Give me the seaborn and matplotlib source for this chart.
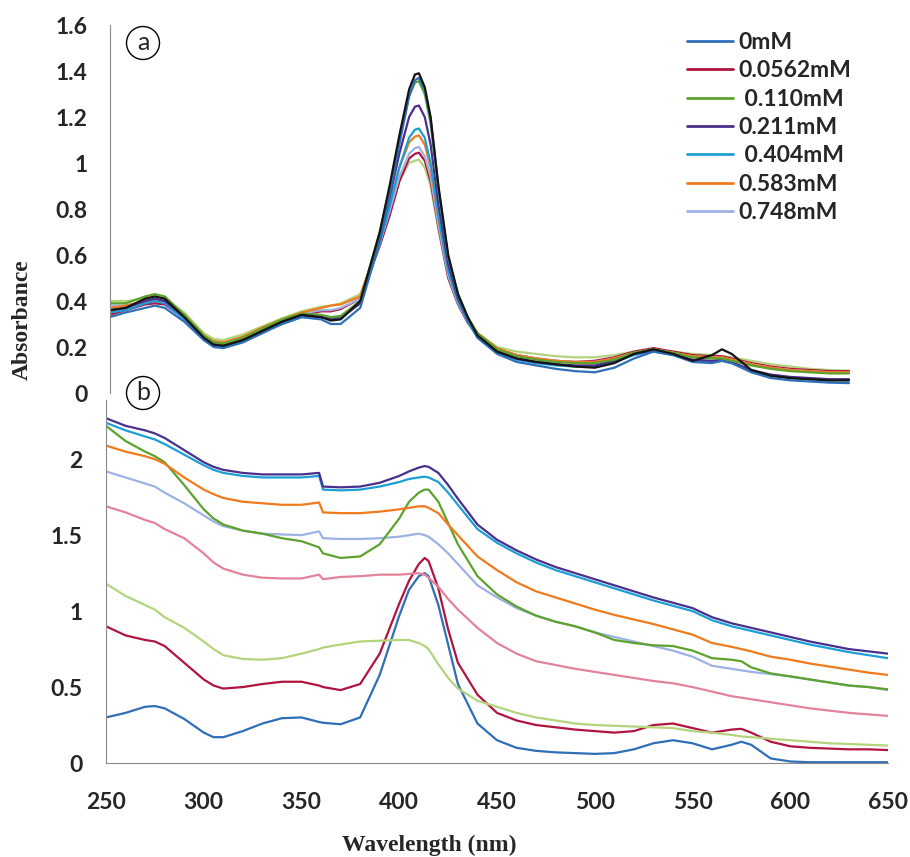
import matplotlib
matplotlib.use("Agg")
import matplotlib.pyplot as plt
import seaborn as sns
import pandas as pd
from matplotlib.lines import Line2D

# ========== Data ==========

# panel (a)
WL_A = [252, 260, 270, 275, 280, 290, 300, 305, 310, 320, 330, 340, 350,
        360, 365, 370, 380, 390, 395, 400, 405, 408, 410, 413, 416, 420,
        425, 430, 435, 440, 450, 460, 470, 480, 490, 500, 510, 520, 530,
        540, 550, 560, 565, 570, 580, 590, 600, 610, 620, 630]

A_LIGHTGREEN = [0.40, 0.40, 0.41, 0.415, 0.41, 0.35, 0.26, 0.235, 0.23, 0.255, 0.29, 0.325, 0.355,
                0.375, 0.38, 0.39, 0.43, 0.66, 0.78, 0.92, 1.00, 1.01, 1.015, 0.98, 0.90,
                0.71, 0.50, 0.39, 0.31, 0.26, 0.20, 0.18, 0.17, 0.16, 0.155, 0.155, 0.165,
                0.18, 0.19, 0.18, 0.17, 0.165, 0.16, 0.155, 0.14, 0.125, 0.115, 0.105, 0.10, 0.097]
A_RED = [0.34, 0.36, 0.385, 0.39, 0.385, 0.325, 0.24, 0.215, 0.21, 0.235, 0.275, 0.31, 0.34,
         0.355, 0.355, 0.365, 0.41, 0.64, 0.77, 0.92, 1.02, 1.04, 1.045, 1.01, 0.92,
         0.72, 0.50, 0.385, 0.305, 0.25, 0.19, 0.165, 0.15, 0.14, 0.135, 0.14, 0.155,
         0.18, 0.195, 0.18, 0.165, 0.16, 0.16, 0.15, 0.13, 0.115, 0.105, 0.10, 0.095, 0.095]
A_LAVENDER = [0.38, 0.38, 0.40, 0.405, 0.40, 0.34, 0.25, 0.225, 0.22, 0.245, 0.28, 0.315, 0.345,
              0.36, 0.36, 0.37, 0.41, 0.65, 0.79, 0.94, 1.04, 1.065, 1.07, 1.03, 0.94,
              0.73, 0.51, 0.39, 0.31, 0.255, 0.19, 0.165, 0.15, 0.14, 0.135, 0.135, 0.15,
              0.175, 0.19, 0.175, 0.16, 0.155, 0.155, 0.145, 0.125, 0.11, 0.10, 0.095, 0.09, 0.09]
A_ORANGE = [0.37, 0.38, 0.40, 0.405, 0.40, 0.34, 0.25, 0.225, 0.22, 0.245, 0.285, 0.32, 0.35,
            0.37, 0.38, 0.385, 0.42, 0.67, 0.82, 0.98, 1.09, 1.115, 1.12, 1.08, 0.98,
            0.76, 0.53, 0.40, 0.32, 0.26, 0.195, 0.165, 0.15, 0.14, 0.135, 0.135, 0.15,
            0.175, 0.19, 0.175, 0.16, 0.155, 0.155, 0.145, 0.125, 0.11, 0.10, 0.095, 0.09, 0.09]
A_CYAN = [0.35, 0.36, 0.39, 0.40, 0.39, 0.32, 0.23, 0.205, 0.20, 0.225, 0.265, 0.30, 0.33,
          0.33, 0.325, 0.33, 0.39, 0.65, 0.81, 0.98, 1.11, 1.145, 1.15, 1.11, 1.00,
          0.77, 0.53, 0.40, 0.31, 0.24, 0.175, 0.145, 0.13, 0.12, 0.115, 0.115, 0.135,
          0.165, 0.18, 0.165, 0.14, 0.135, 0.14, 0.13, 0.095, 0.075, 0.065, 0.06, 0.055, 0.055]
A_PURPLE = [0.36, 0.37, 0.40, 0.41, 0.40, 0.33, 0.24, 0.215, 0.21, 0.235, 0.275, 0.31, 0.335,
            0.33, 0.32, 0.325, 0.39, 0.67, 0.85, 1.04, 1.20, 1.245, 1.25, 1.20, 1.08,
            0.82, 0.56, 0.41, 0.32, 0.25, 0.18, 0.15, 0.135, 0.125, 0.12, 0.12, 0.14,
            0.17, 0.185, 0.17, 0.145, 0.14, 0.145, 0.135, 0.10, 0.08, 0.07, 0.065, 0.06, 0.06]
A_GREEN = [0.39, 0.39, 0.42, 0.43, 0.42, 0.34, 0.25, 0.22, 0.215, 0.24, 0.28, 0.32, 0.345,
           0.34, 0.33, 0.335, 0.40, 0.70, 0.89, 1.10, 1.29, 1.35, 1.355, 1.30, 1.17,
           0.88, 0.59, 0.43, 0.33, 0.26, 0.19, 0.16, 0.145, 0.135, 0.13, 0.13, 0.145,
           0.175, 0.19, 0.175, 0.155, 0.15, 0.15, 0.14, 0.12, 0.105, 0.095, 0.09, 0.085, 0.085]
A_BLUE = [0.33, 0.35, 0.37, 0.38, 0.37, 0.31, 0.23, 0.20, 0.195, 0.22, 0.26, 0.30, 0.33,
          0.32, 0.30, 0.30, 0.37, 0.66, 0.86, 1.08, 1.29, 1.36, 1.37, 1.32, 1.19,
          0.89, 0.59, 0.42, 0.32, 0.24, 0.17, 0.135, 0.12, 0.105, 0.095, 0.09, 0.11,
          0.15, 0.18, 0.165, 0.135, 0.13, 0.14, 0.13, 0.09, 0.065, 0.055, 0.05, 0.045, 0.043]
A_BLACK = [0.36, 0.37, 0.41, 0.42, 0.41, 0.33, 0.24, 0.21, 0.205, 0.23, 0.27, 0.31, 0.34,
           0.33, 0.315, 0.32, 0.40, 0.70, 0.90, 1.12, 1.32, 1.385, 1.39, 1.33, 1.20,
           0.90, 0.60, 0.43, 0.33, 0.25, 0.18, 0.15, 0.135, 0.125, 0.115, 0.11, 0.13,
           0.17, 0.19, 0.17, 0.14, 0.165, 0.19, 0.17, 0.10, 0.075, 0.065, 0.06, 0.055, 0.055]

# panel (b)
WL_B = [250, 260, 270, 275, 280, 290, 300, 305, 310, 320, 330, 340, 350,
        359, 361, 370, 380, 390, 400, 405, 410, 413, 415, 420, 425, 430,
        440, 450, 460, 470, 480, 490, 500, 510, 520, 530, 540, 550, 560,
        570, 575, 580, 590, 600, 610, 620, 630, 640, 650]

B_BLUE = [0.30, 0.33, 0.37, 0.375, 0.36, 0.29, 0.20, 0.17, 0.17, 0.21, 0.26, 0.295, 0.30,
          0.27, 0.265, 0.255, 0.30, 0.58, 0.97, 1.14, 1.23, 1.25, 1.23, 1.04, 0.78, 0.52,
          0.26, 0.15, 0.10, 0.08, 0.07, 0.065, 0.06, 0.065, 0.09, 0.13, 0.15, 0.13, 0.09,
          0.12, 0.14, 0.12, 0.03, 0.01, 0.005, 0.005, 0.005, 0.005, 0.005]
B_RED = [0.90, 0.84, 0.81, 0.80, 0.77, 0.66, 0.55, 0.51, 0.49, 0.50, 0.52, 0.535, 0.535,
         0.51, 0.50, 0.48, 0.52, 0.72, 1.05, 1.20, 1.31, 1.35, 1.33, 1.15, 0.88, 0.66,
         0.45, 0.33, 0.28, 0.25, 0.235, 0.22, 0.21, 0.20, 0.21, 0.25, 0.26, 0.23, 0.20,
         0.22, 0.225, 0.20, 0.14, 0.11, 0.10, 0.095, 0.09, 0.09, 0.085]
B_LIGHTGREEN = [1.18, 1.10, 1.04, 1.01, 0.96, 0.89, 0.80, 0.75, 0.71, 0.685, 0.68, 0.69, 0.72,
                0.75, 0.76, 0.78, 0.80, 0.805, 0.81, 0.81, 0.79, 0.77, 0.75, 0.65, 0.56, 0.49,
                0.41, 0.37, 0.33, 0.30, 0.28, 0.26, 0.25, 0.245, 0.24, 0.235, 0.23, 0.21, 0.20,
                0.185, 0.175, 0.17, 0.16, 0.15, 0.14, 0.13, 0.125, 0.12, 0.115]
B_PINK = [1.69, 1.65, 1.60, 1.58, 1.54, 1.48, 1.38, 1.32, 1.28, 1.24, 1.22, 1.215, 1.215,
          1.24, 1.21, 1.225, 1.23, 1.24, 1.24, 1.245, 1.25, 1.24, 1.22, 1.16, 1.08, 1.01,
          0.89, 0.79, 0.72, 0.67, 0.645, 0.62, 0.60, 0.58, 0.56, 0.54, 0.525, 0.50, 0.47,
          0.44, 0.43, 0.42, 0.40, 0.38, 0.36, 0.345, 0.33, 0.32, 0.31]
B_LAVENDER = [1.92, 1.88, 1.84, 1.82, 1.78, 1.71, 1.63, 1.59, 1.56, 1.53, 1.51, 1.505, 1.50,
              1.525, 1.48, 1.475, 1.475, 1.48, 1.49, 1.50, 1.51, 1.50, 1.49, 1.44, 1.38, 1.31,
              1.17, 1.09, 1.02, 0.97, 0.93, 0.90, 0.86, 0.83, 0.80, 0.77, 0.74, 0.70, 0.64,
              0.62, 0.61, 0.60, 0.585, 0.57, 0.55, 0.53, 0.51, 0.50, 0.48]
B_GREEN = [2.22, 2.12, 2.05, 2.02, 1.98, 1.83, 1.67, 1.61, 1.57, 1.53, 1.51, 1.48, 1.46,
           1.42, 1.38, 1.35, 1.36, 1.44, 1.61, 1.72, 1.78, 1.80, 1.80, 1.72, 1.58, 1.44,
           1.23, 1.11, 1.03, 0.97, 0.93, 0.90, 0.86, 0.81, 0.79, 0.775, 0.77, 0.74, 0.69,
           0.68, 0.67, 0.63, 0.59, 0.57, 0.55, 0.53, 0.51, 0.50, 0.485]
B_ORANGE = [2.09, 2.05, 2.02, 2.00, 1.97, 1.88, 1.80, 1.77, 1.745, 1.72, 1.71, 1.70, 1.70,
            1.715, 1.65, 1.645, 1.645, 1.655, 1.67, 1.68, 1.69, 1.69, 1.68, 1.645, 1.57, 1.50,
            1.36, 1.27, 1.19, 1.13, 1.09, 1.05, 1.01, 0.975, 0.945, 0.915, 0.88, 0.845, 0.79,
            0.765, 0.75, 0.735, 0.70, 0.68, 0.655, 0.635, 0.615, 0.595, 0.58]
B_CYAN = [2.24, 2.19, 2.15, 2.13, 2.10, 2.03, 1.96, 1.93, 1.91, 1.89, 1.88, 1.88, 1.88,
          1.89, 1.80, 1.795, 1.80, 1.82, 1.85, 1.87, 1.88, 1.885, 1.88, 1.85, 1.78, 1.70,
          1.54, 1.45, 1.38, 1.32, 1.27, 1.23, 1.19, 1.15, 1.11, 1.07, 1.035, 1.00, 0.94,
          0.90, 0.885, 0.87, 0.84, 0.81, 0.78, 0.755, 0.73, 0.71, 0.69]
B_PURPLE = [2.27, 2.22, 2.19, 2.17, 2.14, 2.06, 1.98, 1.95, 1.93, 1.91, 1.90, 1.90, 1.90,
            1.91, 1.82, 1.815, 1.82, 1.845, 1.89, 1.92, 1.945, 1.955, 1.95, 1.91, 1.83, 1.74,
            1.57, 1.47, 1.40, 1.34, 1.29, 1.25, 1.21, 1.17, 1.13, 1.09, 1.055, 1.02, 0.96,
            0.92, 0.905, 0.89, 0.86, 0.83, 0.80, 0.775, 0.75, 0.735, 0.72]

LEGEND_LABELS = ["0mM", "0.0562mM", " 0.110mM", "0.211mM", " 0.404mM", "0.583mM", "0.748mM"]

COLORS = {
    "blue": "#2f6fb8",
    "red": "#b01440",
    "green": "#5ea22e",
    "purple": "#4a2f8c",
    "cyan": "#1c9fd6",
    "orange": "#f07a1c",
    "lavender": "#9db2e4",
    "pink": "#e3839b",
    "lightgreen": "#b4d47c",
    "black": "#141414",
}

# ========== Helpers ==========

def to_long(wl, series):
    """series: list of (name, values) -> long DataFrame"""
    rows = []
    for name, vals in series:
        for w, v in zip(wl, vals):
            rows.append({"wl": w, "abs": v, "curve": name})
    return pd.DataFrame(rows)


df_a = to_long(WL_A, [
    ("lightgreen", A_LIGHTGREEN), ("red", A_RED), ("lavender", A_LAVENDER),
    ("orange", A_ORANGE), ("cyan", A_CYAN), ("purple", A_PURPLE),
    ("green", A_GREEN), ("blue", A_BLUE), ("black", A_BLACK),
])
df_b = to_long(WL_B, [
    ("blue", B_BLUE), ("red", B_RED), ("lightgreen", B_LIGHTGREEN),
    ("pink", B_PINK), ("lavender", B_LAVENDER), ("green", B_GREEN),
    ("orange", B_ORANGE), ("cyan", B_CYAN), ("purple", B_PURPLE),
])

# ========== Figure ==========

sns.set_style("white")
plt.rcParams["font.family"] = ["Lato", "DejaVu Sans"]

W, H = 910, 857
fig = plt.figure(figsize=(W / 100, H / 100), dpi=100)

ax_a = fig.add_axes([110 / W, 1 - 393 / H, 782 / W, 368 / H])
ax_b = fig.add_axes([106 / W, 1 - 763 / H, 782 / W, 363 / H])

sns.lineplot(data=df_a, x="wl", y="abs", hue="curve", palette=COLORS,
             hue_order=list(dict.fromkeys(df_a["curve"])), estimator=None,
             sort=False, lw=1.6, legend=False, ax=ax_a)
sns.lineplot(data=df_b, x="wl", y="abs", hue="curve", palette=COLORS,
             hue_order=list(dict.fromkeys(df_b["curve"])), estimator=None,
             sort=False, lw=1.6, legend=False, ax=ax_b)

tick_font = dict(family="Lato", weight="bold", size=16.5)
spine_col = "#8a8a8a"

# panel a
ax_a.set_xlim(252, 652)
ax_a.set_ylim(0, 1.6)
ax_a.set_yticks([0, 0.2, 0.4, 0.6, 0.8, 1.0, 1.2, 1.4, 1.6])
ax_a.set_yticklabels(["0", "0.2", "0.4", "0.6", "0.8", "1", "1.2", "1.4", "1.6"], **tick_font)
ax_a.set_xticks([])
ax_a.tick_params(axis="y", length=0, pad=16)
for s in ["top", "right", "bottom"]:
    ax_a.spines[s].set_visible(False)
ax_a.spines["left"].set_color(spine_col)
ax_a.set_xlabel("")
ax_a.set_ylabel("")

# panel b
ax_b.set_xlim(250, 650)
ax_b.set_ylim(0, 2.39)
ax_b.set_xticks([250, 300, 350, 400, 450, 500, 550, 600, 650])
ax_b.set_xticklabels(["250", "300", "350", "400", "450", "500", "550", "600", "650"], **tick_font)
ax_b.set_yticks([0, 0.5, 1.0, 1.5, 2.0])
ax_b.set_yticklabels(["0", "0.5", "1", "1.5", "2"], **tick_font)
ax_b.tick_params(axis="y", length=0, pad=17)
ax_b.tick_params(axis="x", length=0, pad=21)
for s in ["top", "right"]:
    ax_b.spines[s].set_visible(False)
ax_b.spines["left"].set_color(spine_col)
ax_b.spines["bottom"].set_color(spine_col)
ax_b.set_xlabel("")
ax_b.set_ylabel("")

# axis titles
label_font = dict(family="Liberation Serif", weight="bold", size=17)
fig.text(22 / W, 1 - 320 / H, "Absorbance", rotation=90, ha="center", va="center", **label_font)
fig.text(429 / W, 1 - 845 / H, "Wavelength (nm)", ha="center", va="center", **label_font)

# circled panel letters
circ = dict(boxstyle="circle,pad=0.2", fc="white", ec="black", lw=1)
fig.text(143 / W, 1 - 43 / H, "a", ha="center", va="center", fontsize=18, bbox=circ)
fig.text(143 / W, 1 - 393 / H, "b", ha="center", va="center", fontsize=18, bbox=circ)

# legend
legend_keys = ["blue", "red", "green", "purple", "cyan", "orange", "lavender"]
handles = [Line2D([], [], color=COLORS[k], lw=2) for k in legend_keys]
fig.legend(handles, LEGEND_LABELS, loc="upper left",
           bbox_to_anchor=(687 / W, 1 - 32 / H), frameon=False,
           prop=dict(family="Lato", weight="bold", size=16.5),
           handlelength=2.0, handletextpad=0.25, labelspacing=0.32,
           borderpad=0, borderaxespad=0)

fig.savefig("out.png", dpi=100)
